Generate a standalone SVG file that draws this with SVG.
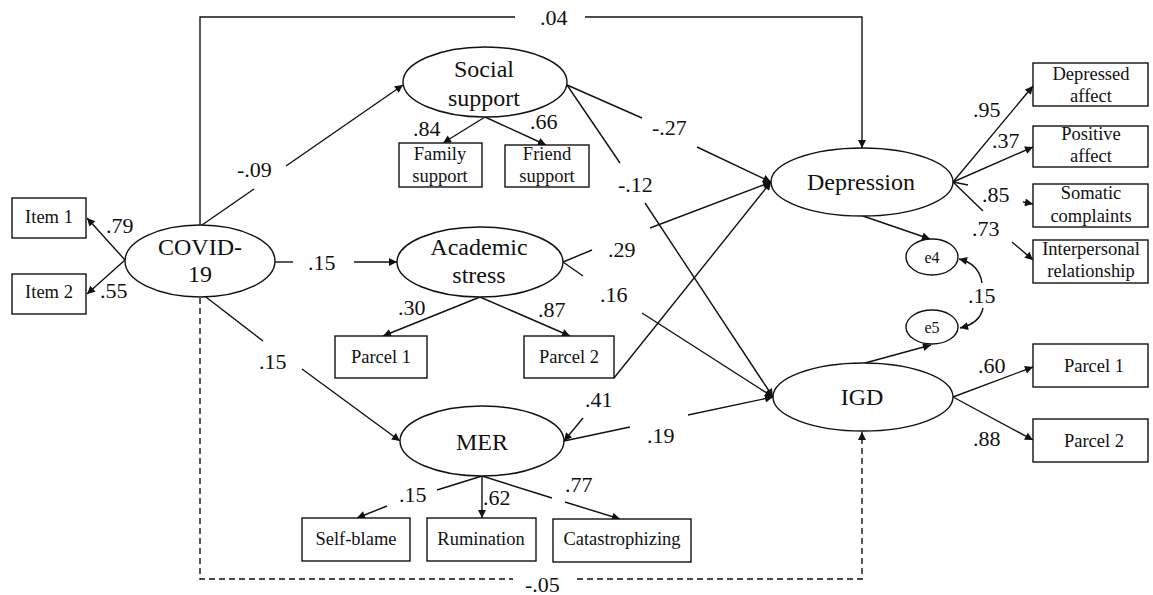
<svg xmlns="http://www.w3.org/2000/svg" width="1153" height="595" viewBox="0 0 1153 595" font-family="'Liberation Serif', 'Times New Roman', serif" fill="#111">
<style>
.n{fill:#fff;stroke:#111;stroke-width:1.4}
.t{text-anchor:middle}
.lv{font-size:24px}
.bx{font-size:18.5px}
.er{font-size:16px}
.c{font-size:22px}
.l{fill:none;stroke:#111;stroke-width:1.4}
.a{marker-end:url(#ah)}
.d{stroke-dasharray:6,4}
</style>
<defs>
<marker id="ah" viewBox="0 0 10 10" refX="10" refY="5" markerWidth="9" markerHeight="8" markerUnits="userSpaceOnUse" orient="auto">
<path d="M0,0 L10,5 L0,10 z" fill="#111"/>
</marker>
</defs>
<rect width="1153" height="595" fill="#fff"/>

<g id="connectors">
<line class="l a" x1="125" y1="260" x2="87" y2="218"/>
<line class="l a" x1="125" y1="260" x2="87" y2="294"/>
<polyline class="l" points="200,225 200,17 515,17"/>
<polyline class="l a" points="585,17 862,17 862,148"/>
<line class="l" x1="202" y1="225" x2="254" y2="189"/>
<line class="l a" x1="286" y1="166" x2="403" y2="85"/>
<line class="l" x1="275" y1="262" x2="293" y2="262"/>
<line class="l a" x1="354" y1="262" x2="397" y2="262"/>
<line class="l" x1="202" y1="294" x2="263" y2="341"/>
<line class="l a" x1="302" y1="369" x2="400" y2="441"/>
<polyline class="l d" points="200,298 200,579 513,579"/>
<polyline class="l d a" points="577,579 862,579 862,432"/>
<line class="l a" x1="485" y1="117" x2="443" y2="143"/>
<line class="l a" x1="485" y1="117" x2="546" y2="145"/>
<line class="l a" x1="480" y1="297" x2="383" y2="336"/>
<line class="l a" x1="480" y1="297" x2="570" y2="336"/>
<line class="l" x1="482" y1="476" x2="437" y2="490"/>
<line class="l a" x1="387" y1="506" x2="357" y2="518"/>
<line class="l a" x1="482" y1="476" x2="482" y2="518"/>
<line class="l" x1="482" y1="476" x2="552" y2="498"/>
<line class="l a" x1="565" y1="502" x2="620" y2="519"/>
<line class="l" x1="567" y1="85" x2="642" y2="118"/>
<line class="l a" x1="697" y1="147" x2="771" y2="182"/>
<line class="l" x1="567" y1="85" x2="620" y2="163"/>
<line class="l a" x1="645" y1="203" x2="773" y2="397"/>
<line class="l" x1="563" y1="262" x2="592" y2="250"/>
<line class="l a" x1="650" y1="228" x2="771" y2="182"/>
<line class="l" x1="563" y1="262" x2="583" y2="276"/>
<line class="l a" x1="642" y1="313" x2="773" y2="397"/>
<line class="l a" x1="614" y1="378" x2="771" y2="182"/>
<line class="l a" x1="583" y1="418" x2="564" y2="441"/>
<line class="l" x1="564" y1="441" x2="630" y2="427"/>
<line class="l a" x1="688" y1="415" x2="773" y2="397"/>
<line class="l a" x1="863" y1="216" x2="930" y2="239"/>
<line class="l a" x1="865" y1="363" x2="931" y2="345"/>
<path class="l a" d="M982,283 C980,270 972,262 959,259"/>
<path class="l a" d="M983,308 C981,318 973,325 960,328"/>
<line class="l a" x1="953" y1="182" x2="1033" y2="86"/>
<line class="l a" x1="953" y1="182" x2="1033" y2="147"/>
<line class="l" x1="953" y1="182" x2="968" y2="185"/>
<line class="l a" x1="1023" y1="202" x2="1033" y2="204"/>
<line class="l" x1="953" y1="182" x2="983" y2="211"/>
<line class="l a" x1="1012" y1="242" x2="1033" y2="260"/>
<line class="l a" x1="953" y1="397" x2="1033" y2="367"/>
<line class="l a" x1="953" y1="397" x2="1033" y2="440"/>
</g>

<g id="labels">
<text class="c" x="106" y="233">.79</text>
<text class="c" x="100" y="298">.55</text>
<text class="c" x="540" y="25" font-size="23">.04</text>
<text class="c" x="237" y="177">-.09</text>
<text class="c" x="308" y="270">.15</text>
<text class="c" x="259" y="369">.15</text>
<text class="c" x="525" y="592" font-size="23">-.05</text>
<text class="c" x="413" y="136">.84</text>
<text class="c" x="530" y="129">.66</text>
<text class="c" x="398" y="315">.30</text>
<text class="c" x="538" y="317">.87</text>
<text class="c" x="399" y="502">.15</text>
<text class="c" x="483" y="505">.62</text>
<text class="c" x="565" y="492">.77</text>
<text class="c" x="652" y="135">-.27</text>
<text class="c" x="618" y="192">-.12</text>
<text class="c" x="608" y="257">.29</text>
<text class="c" x="600" y="302">.16</text>
<text class="c" x="585" y="407">.41</text>
<text class="c" x="647" y="443">.19</text>
<text class="c" x="973" y="117">.95</text>
<text class="c" x="992" y="148">.37</text>
<text class="c" x="982" y="202">.85</text>
<text class="c" x="972" y="236">.73</text>
<text class="c" x="968" y="303">.15</text>
<text class="c" x="978" y="373">.60</text>
<text class="c" x="973" y="446">.88</text>
</g>

<g id="item1"><rect class="n" x="12" y="198" width="74" height="40"/><text class="t bx" x="49" y="223">Item 1</text></g>
<g id="item2"><rect class="n" x="12" y="274" width="74" height="40"/><text class="t bx" x="49" y="298">Item 2</text></g>
<g id="covid"><ellipse class="n" cx="200" cy="261" rx="75" ry="36"/><text class="t lv" x="200" y="255">COVID-</text><text class="t lv" x="200" y="282">19</text></g>

<g id="social"><ellipse class="n" cx="485" cy="82" rx="82" ry="35"/><text class="t lv" x="484" y="77">Social</text><text class="t lv" x="484" y="106">support</text></g>
<g id="family"><rect class="n" x="399" y="143" width="83" height="44"/><text class="t bx" x="440" y="160">Family</text><text class="t bx" x="440" y="182">support</text></g>
<g id="friend"><rect class="n" x="505" y="145" width="84" height="42"/><text class="t bx" x="547" y="160">Friend</text><text class="t bx" x="547" y="182">support</text></g>

<g id="academic"><ellipse class="n" cx="480" cy="262" rx="83" ry="35"/><text class="t lv" x="479" y="255">Academic</text><text class="t lv" x="479" y="283">stress</text></g>
<g id="as-parcel1"><rect class="n" x="335" y="336" width="92" height="42"/><text class="t bx" x="381" y="363">Parcel 1</text></g>
<g id="as-parcel2"><rect class="n" x="524" y="336" width="90" height="42"/><text class="t bx" x="569" y="363">Parcel 2</text></g>

<g id="mer"><ellipse class="n" cx="482" cy="441" rx="82" ry="35"/><text class="t lv" x="482" y="450">MER</text></g>
<g id="selfblame"><rect class="n" x="302" y="518" width="108" height="43"/><text class="t bx" x="356" y="545">Self-blame</text></g>
<g id="rumination"><rect class="n" x="427" y="518" width="109" height="43"/><text class="t bx" x="481" y="545">Rumination</text></g>
<g id="catastrophizing"><rect class="n" x="553" y="519" width="138" height="43"/><text class="t bx" x="622" y="545">Catastrophizing</text></g>

<g id="depression"><ellipse class="n" cx="862" cy="182" rx="91" ry="34"/><text class="t lv" x="861" y="190">Depression</text></g>
<g id="e4"><ellipse class="n" cx="932" cy="257" rx="26" ry="18"/><text class="t er" x="932" y="263">e4</text></g>
<g id="e5"><ellipse class="n" cx="932" cy="327" rx="26" ry="17"/><text class="t er" x="932" y="333">e5</text></g>
<g id="igd"><ellipse class="n" cx="863" cy="397" rx="90" ry="34"/><text class="t lv" x="862" y="405">IGD</text></g>

<g id="depressed-affect"><rect class="n" x="1033" y="63" width="115" height="43"/><text class="t bx" x="1091" y="80">Depressed</text><text class="t bx" x="1091" y="102">affect</text></g>
<g id="positive-affect"><rect class="n" x="1033" y="126" width="115" height="41"/><text class="t bx" x="1091" y="140">Positive</text><text class="t bx" x="1091" y="162">affect</text></g>
<g id="somatic"><rect class="n" x="1033" y="184" width="115" height="43"/><text class="t bx" x="1091" y="199">Somatic</text><text class="t bx" x="1091" y="222">complaints</text></g>
<g id="interpersonal"><rect class="n" x="1033" y="240" width="115" height="43"/><text class="t bx" x="1091" y="255">Interpersonal</text><text class="t bx" x="1091" y="277">relationship</text></g>
<g id="igd-parcel1"><rect class="n" x="1033" y="344" width="115" height="43"/><text class="t bx" x="1094" y="372">Parcel 1</text></g>
<g id="igd-parcel2"><rect class="n" x="1033" y="419" width="115" height="43"/><text class="t bx" x="1094" y="447">Parcel 2</text></g>
</svg>
